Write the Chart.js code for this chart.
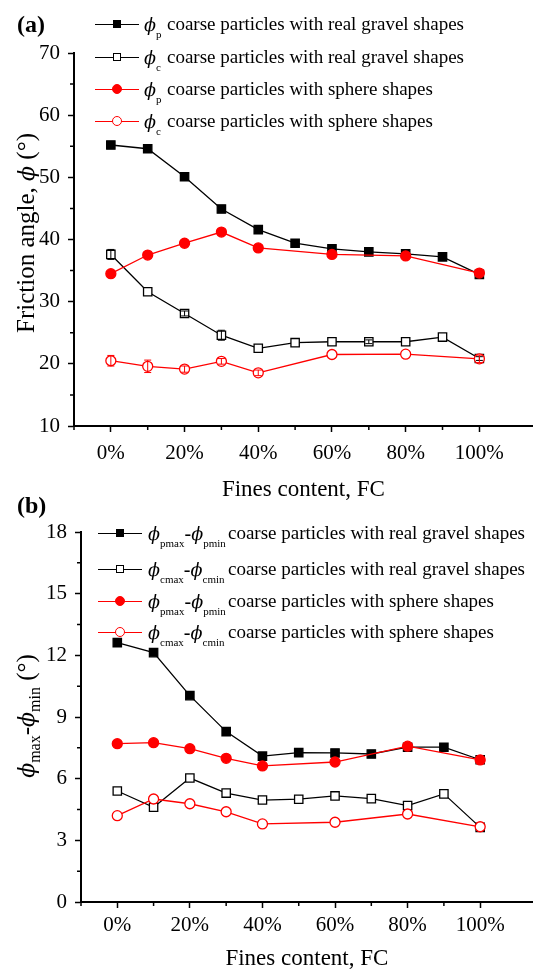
<!DOCTYPE html>
<html>
<head>
<meta charset="utf-8">
<script src="https://cdn.jsdelivr.net/npm/chart.js@4.4.0/dist/chart.umd.min.js"></script>
<style>
  body { margin: 0; background: #fff; }
  #page { position: relative; width: 540px; height: 977px; overflow: hidden;
          font-family: "Liberation Serif", "Times New Roman", serif; color: #000; }
  canvas { position: absolute; left: 0; }
  .panel { position: absolute; left: 17px; font-size: 24px; font-weight: bold; line-height: 1; }
  .ytitle { position: absolute; white-space: nowrap; font-size: 25px; line-height: 1;
            transform: translate(-50%, -50%) rotate(-90deg); }
  .ytitle sub { font-size: 16px; vertical-align: -6px; }
  .phi { font-family: "DejaVu Serif", serif; font-style: italic; font-size: 0.88em; }
  .row { position: absolute; height: 24px; width: 440px; font-size: 19px; line-height: 24px; white-space: nowrap; }
  .sym { position: absolute; left: 0; top: 0; width: 44px; height: 24px; }
  .sym .ln { position: absolute; left: 0; right: 0; top: 11.5px; height: 1.4px; }
  .sym .mk { position: absolute; left: 50%; top: 12px; transform: translate(-50%, -50%); box-sizing: border-box; }
  .sq { width: 8px; height: 8px; border: 1.2px solid #000; }
  .ci { width: 10px; height: 10px; border-radius: 50%; border: 1.2px solid #f00; }
  .sym-tx { position: absolute; top: 0; font-size: 20px; }
  .sym-tx sub { font-size: 11px; vertical-align: -7px; }
  .desc { position: absolute; top: 0; }
</style>
</head>
<body>
<div id="page">
  <canvas id="chartA" width="540" height="504" style="top:0"></canvas>
  <canvas id="chartB" width="540" height="477" style="top:500px"></canvas>

  <div class="panel" style="top:12px">(a)</div>
  <div class="panel" style="top:493px">(b)</div>

  <div class="ytitle" style="left:25px; top:233px">Friction angle, <span class="phi">ϕ</span> (°)</div>
  <div class="ytitle" style="left:28px; top:716px"><span class="phi">ϕ</span><sub>max</sub>-<span class="phi">ϕ</span><sub>min</sub> (°)</div>

  <div id="legendA"></div>
  <div id="legendB"></div>
</div>

<script>
// fines content (%) at each test
const fcGravel = [0, 10, 20, 30, 40, 50, 60, 70, 80, 90, 100];
const fcSphere = [0, 10, 20, 30, 40, 60, 80, 100];
const xTicks = [0, 20, 40, 60, 80, 100];
const xMinor = [-10, 10, 30, 50, 70, 90];

// (a) friction angles, degrees
const phiPeakGravel = [55.2, 54.6, 50.1, 44.9, 41.6, 39.4, 38.5, 38.0, 37.7, 37.2, 34.4];
const phiCritGravel = [37.6, 31.6, 28.1, 24.6, 22.5, 23.4, 23.55, 23.55, 23.55, 24.3, 20.85];
const phiCritGravelErr = [0.8, 0, 0.4, 0.8, 0, 0, 0, 0.3, 0, 0, 0.3];
const phiPeakSphere = [34.5, 37.5, 39.4, 41.2, 38.65, 37.6, 37.35, 34.6];
const phiCritSphere = [20.5, 19.6, 19.15, 20.4, 18.55, 21.5, 21.55, 20.8];
const phiCritSphereErr = [0.85, 1.0, 0.5, 0.45, 0.45, 0, 0, 0.6];
const yTicksA = { min: 10, max: 70, step: 10, minor: [15, 25, 35, 45, 55, 65] };

// (b) spread between max and min friction angle, degrees
const dPeakGravel = [12.62, 12.13, 10.04, 8.29, 7.1, 7.27, 7.25, 7.2, 7.53, 7.53, 6.92];
const dCritGravel = [5.4, 4.61, 6.03, 5.3, 4.96, 5.0, 5.16, 5.03, 4.69, 5.26, 3.63];
const dPeakSphere = [7.7, 7.75, 7.46, 6.99, 6.62, 6.81, 7.58, 6.91];
const dCritSphere = [4.2, 5.01, 4.78, 4.39, 3.8, 3.88, 4.28, 3.66];
const yTicksB = { min: 0, max: 18, step: 3, minor: [1.5, 4.5, 7.5, 10.5, 13.5, 16.5] };

const legendTextA = [
  ['p', 'coarse particles with real gravel shapes'],
  ['c', 'coarse particles with real gravel shapes'],
  ['p', 'coarse particles with sphere shapes'],
  ['c', 'coarse particles with sphere shapes']
];
const legendTextB = [
  ['pmax', 'pmin', 'coarse particles with real gravel shapes'],
  ['cmax', 'cmin', 'coarse particles with real gravel shapes'],
  ['pmax', 'pmin', 'coarse particles with sphere shapes'],
  ['cmax', 'cmin', 'coarse particles with sphere shapes']
];

const RED = '#ff0000';
const BLACK = '#000000';
const markers = [
  { style: 'rect', color: BLACK, fill: BLACK, r: 5.9, cls: 'sq', bg: BLACK },
  { style: 'rect', color: BLACK, fill: '#fff', r: 5.9, cls: 'sq', bg: '#fff' },
  { style: 'circle', color: RED, fill: RED, r: 5, cls: 'ci', bg: RED },
  { style: 'circle', color: RED, fill: '#fff', r: 5, cls: 'ci', bg: '#fff' }
];

function series(xs, ys, m, errs, order) {
  return {
    data: xs.map((x, i) => ({ x: x, y: ys[i] })),
    errors: errs || null,
    borderColor: m.color,
    borderWidth: 1.3,
    pointStyle: m.style,
    pointRadius: m.r,
    pointHoverRadius: m.r,
    pointBackgroundColor: m.fill,
    pointBorderColor: m.color,
    pointBorderWidth: 1.3,
    tension: 0,
    order: order
  };
}

// small ticks between the labelled ones
const minorTicks = {
  id: 'minorTicks',
  afterDraw(chart, args, opts) {
    const { ctx } = chart;
    const x = chart.scales.x, y = chart.scales.y;
    ctx.save();
    ctx.strokeStyle = BLACK;
    ctx.lineWidth = 1.5;
    ctx.beginPath();
    opts.x.forEach(v => {
      const px = x.getPixelForValue(v);
      ctx.moveTo(px, y.bottom);
      ctx.lineTo(px, y.bottom + 4);
    });
    opts.y.forEach(v => {
      const py = y.getPixelForValue(v);
      ctx.moveTo(x.left, py);
      ctx.lineTo(x.left - 4, py);
    });
    ctx.stroke();
    ctx.restore();
  }
};

// vertical error bars with caps, from each dataset's errors array
const errorBars = {
  id: 'errorBars',
  afterDatasetsDraw(chart) {
    const ctx = chart.ctx;
    const ys = chart.scales.y;
    chart.data.datasets.forEach((ds, i) => {
      if (!ds.errors) return;
      const meta = chart.getDatasetMeta(i);
      ctx.save();
      ctx.strokeStyle = ds.borderColor;
      ctx.lineWidth = 1;
      ctx.beginPath();
      ds.data.forEach((p, j) => {
        const e = ds.errors[j];
        if (!e) return;
        const px = meta.data[j].x;
        const top = ys.getPixelForValue(p.y + e);
        const bot = ys.getPixelForValue(p.y - e);
        ctx.moveTo(px, top); ctx.lineTo(px, bot);
        ctx.moveTo(px - 3.5, top); ctx.lineTo(px + 3.5, top);
        ctx.moveTo(px - 3.5, bot); ctx.lineTo(px + 3.5, bot);
      });
      ctx.stroke();
      ctx.restore();
    });
  }
};

const tickFont = { family: '"Liberation Serif", "Times New Roman", serif', size: 21 };
const titleFont = { family: '"Liberation Serif", "Times New Roman", serif', size: 23 };

function makeChart(id, datasets, yt, lay) {
  return new Chart(document.getElementById(id), {
    type: 'line',
    data: { datasets: datasets },
    options: {
      responsive: false,
      animation: false,
      events: [],
      layout: { padding: { top: lay.top, right: 0, left: 0, bottom: 0 } },
      plugins: {
        legend: { display: false },
        tooltip: { enabled: false },
        minorTicks: { x: xMinor, y: yt.minor }
      },
      scales: {
        x: {
          type: 'linear',
          min: -10,
          max: 114.5,
          afterBuildTicks: s => { s.ticks = xTicks.map(v => ({ value: v })); },
          afterFit: s => { s.height = lay.xHeight; },
          grid: { drawOnChartArea: false, tickLength: 6, tickWidth: 1.5, tickColor: BLACK },
          border: { color: BLACK, width: 2 },
          ticks: { color: BLACK, font: tickFont, padding: lay.xPad, autoSkip: false, maxRotation: 0,
                   callback: v => v + '%' },
          title: { display: true, text: 'Fines content, FC', color: BLACK, font: titleFont,
                   padding: { top: 0, bottom: lay.titlePad } }
        },
        y: {
          min: yt.min,
          max: yt.max,
          afterFit: s => { s.width = lay.left; },
          grid: { drawOnChartArea: false, tickLength: 6, tickWidth: 1.5, tickColor: BLACK },
          border: { color: BLACK, width: 2 },
          ticks: { color: BLACK, font: tickFont, padding: 8, stepSize: yt.step }
        }
      }
    },
    plugins: [minorTicks, errorBars]
  });
}

makeChart('chartA', [
  series(fcGravel, phiPeakGravel, markers[0], null, 3),
  series(fcGravel, phiCritGravel, markers[1], phiCritGravelErr, 2),
  series(fcSphere, phiPeakSphere, markers[2], null, 1),
  series(fcSphere, phiCritSphere, markers[3], phiCritSphereErr, 0)
], yTicksA, { top: 53, left: 74, xHeight: 78, xPad: 9, titlePad: 0 });

makeChart('chartB', [
  series(fcGravel, dPeakGravel, markers[0], null, 3),
  series(fcGravel, dCritGravel, markers[1], null, 2),
  series(fcSphere, dPeakSphere, markers[2], null, 1),
  series(fcSphere, dCritSphere, markers[3], null, 0)
], yTicksB, { top: 32, left: 81, xHeight: 75, xPad: 5, titlePad: 4 });

// legends are html so the subscripts can be set
function symbol(m) {
  return `<span class="sym"><span class="ln" style="background:${m.color}"></span>` +
         `<span class="mk ${m.cls}" style="background:${m.bg}"></span></span>`;
}

document.getElementById('legendA').innerHTML = legendTextA.map((t, i) => `
  <div class="row" style="left:95px; top:${[12, 45, 77, 109][i]}px">
    ${symbol(markers[i])}
    <span class="sym-tx" style="left:49px"><span class="phi">ϕ</span><sub>${t[0]}</sub></span>
    <span class="desc" style="left:72px">${t[1]}</span>
  </div>`).join('');

document.getElementById('legendB').innerHTML = legendTextB.map((t, i) => `
  <div class="row" style="left:98px; top:${[521, 557, 589, 620][i]}px">
    ${symbol(markers[i])}
    <span class="sym-tx" style="left:50px"><span class="phi">ϕ</span><sub>${t[0]}</sub>-<span class="phi">ϕ</span><sub>${t[1]}</sub></span>
    <span class="desc" style="left:130px">${t[2]}</span>
  </div>`).join('');
</script>
</body>
</html>
